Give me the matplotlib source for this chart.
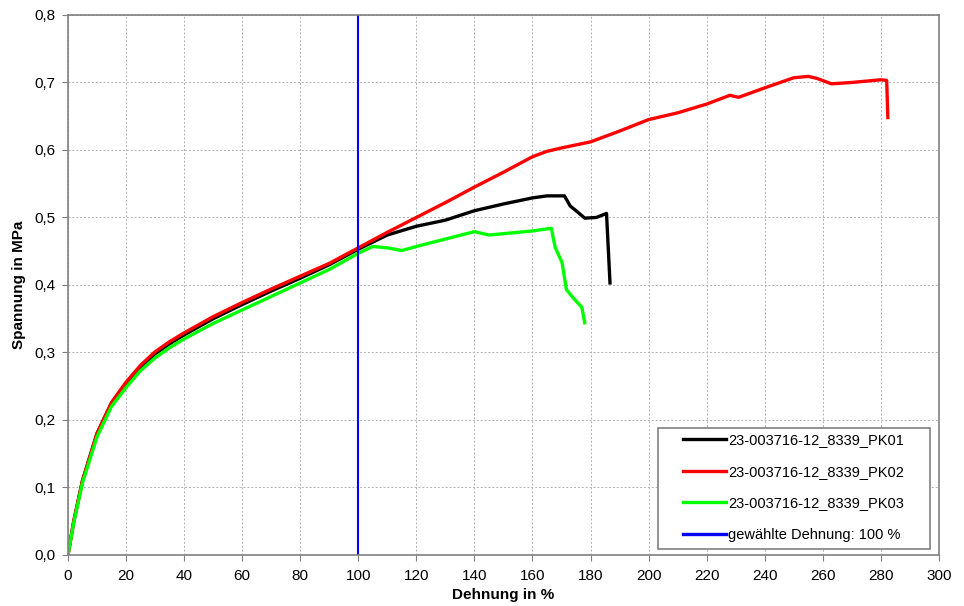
import matplotlib
matplotlib.use("Agg")
import matplotlib.pyplot as plt
from matplotlib.patches import Rectangle
from matplotlib.ticker import FuncFormatter

plt.rcParams['font.family'] = ['Liberation Sans', 'DejaVu Sans']

# Dehnung in % / Spannung in MPa
pk01_x = [0, 2, 5, 10, 15, 20, 25, 30, 35, 40, 50, 60, 70, 80, 90, 100, 110, 120, 130, 140,
          150, 160, 165, 171, 173, 175, 178, 182, 185.5, 186.7]
pk01_y = [0, 0.05, 0.11, 0.18, 0.225, 0.253, 0.278, 0.298, 0.313, 0.326, 0.35, 0.371, 0.391,
          0.41, 0.43, 0.453, 0.474, 0.487, 0.496, 0.51, 0.52, 0.529, 0.532, 0.532, 0.517,
          0.51, 0.499, 0.5, 0.506, 0.403]

pk02_x = [0, 2, 5, 10, 15, 20, 25, 30, 35, 40, 50, 60, 70, 80, 90, 100, 110, 120, 130, 140,
          150, 160, 165, 170, 180, 190, 200, 210, 220, 228, 231, 240, 250, 255, 258, 263, 270,
          280, 282, 282.4]
pk02_y = [0, 0.05, 0.11, 0.18, 0.226, 0.256, 0.281, 0.301, 0.316, 0.329, 0.353, 0.374, 0.394,
          0.413, 0.432, 0.455, 0.478, 0.5, 0.522, 0.545, 0.567, 0.59, 0.598, 0.603, 0.612,
          0.628, 0.645, 0.655, 0.668, 0.681, 0.678, 0.692, 0.707, 0.709, 0.706, 0.698, 0.7,
          0.704, 0.703, 0.648]

pk03_x = [0, 2, 5, 10, 15, 20, 25, 30, 35, 40, 50, 60, 70, 80, 90, 100, 105, 110, 115, 120,
          130, 140, 145, 150, 160, 166.5, 167.8, 170.2, 171.7, 174, 177, 178]
pk03_y = [0, 0.048, 0.107, 0.175, 0.22, 0.248, 0.273, 0.292, 0.307, 0.32, 0.343, 0.363, 0.383,
          0.403, 0.423, 0.447, 0.457, 0.455, 0.451, 0.457, 0.468, 0.479, 0.474, 0.476, 0.48,
          0.484, 0.456, 0.433, 0.393, 0.381, 0.367, 0.344]

gewaehlt = 100

fig = plt.figure(figsize=(9.64, 6.06), dpi=100)
ax = fig.add_axes([0.0705, 0.0842, 0.9035, 0.8911])

ax.plot(pk01_x, pk01_y, color='black', lw=2.4, label='23-003716-12_8339_PK01')
ax.plot(pk02_x, pk02_y, color='red', lw=2.4, label='23-003716-12_8339_PK02')
ax.plot(pk03_x, pk03_y, color='#00ff00', lw=2.4, label='23-003716-12_8339_PK03')
ax.axvline(gewaehlt, color='#0000ff', lw=1.5, label='gewählte Dehnung: 100 %')

ax.set_xlim(0, 300)
ax.set_ylim(0, 0.8)
ax.set_xticks(range(0, 301, 20))
ax.set_yticks([i / 10 for i in range(9)])
ax.yaxis.set_major_formatter(FuncFormatter(lambda v, p: f"{v:.1f}".replace('.', ',')))
ax.tick_params(labelsize=11, color='#808080', length=4, direction='out')
ax.tick_params(axis='x', pad=6)
ax.tick_params(axis='y', pad=5)
ax.grid(True, color='#b0b0b0', linestyle=(0, (2, 2)), lw=0.7)
ax.set_axisbelow(True)
for s in ax.spines.values():
    s.set_color('#808080')
    s.set_linewidth(1.2)

ax.set_xlabel('Dehnung in %', fontsize=11, fontweight='bold', labelpad=4)
ax.set_ylabel('Spannung in MPa', fontsize=11, fontweight='bold', labelpad=6)

# Legendenrahmen separat, damit links/rechts mehr Platz ist
ax.add_patch(Rectangle((0.6774, 0.0111), 0.3123, 0.2241, transform=ax.transAxes,
                       facecolor='white', edgecolor='#808080', lw=1.2, zorder=4))
leg = ax.legend(loc='center', bbox_to_anchor=(0.833, 0.125), fontsize=10.5,
                frameon=False, handlelength=2.9, labelspacing=1.2, borderpad=0,
                handletextpad=0.15, borderaxespad=0)
leg.set_zorder(5)
for h in leg.legend_handles:
    h.set_linewidth(2.4)

fig.savefig('out.png', dpi=100)
